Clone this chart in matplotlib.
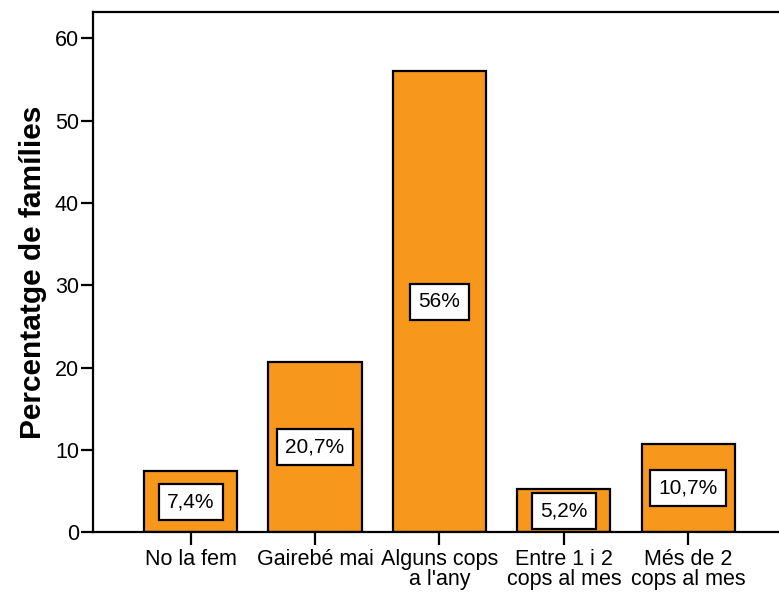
import matplotlib
matplotlib.use("Agg")
import matplotlib.pyplot as plt

categories = ["No la fem", "Gairebé mai", "Alguns cops\na l'any",
              "Entre 1 i 2\ncops al mes", "Més de 2\ncops al mes"]
values = [7.4, 20.7, 56.0, 5.2, 10.7]
value_labels = ["7,4%", "20,7%", "56%", "5,2%", "10,7%"]
yticks = [0, 10, 20, 30, 40, 50, 60]

plt.rcParams["font.family"] = ["Liberation Sans", "DejaVu Sans"]

fig = plt.figure(figsize=(7.79, 5.94), dpi=100)
ax = fig.add_axes([0.1194, 0.1039, 0.8806, 0.8759])

x = list(range(len(categories)))
ax.bar(x, values, width=0.75, color="#F7981D", edgecolor="black", linewidth=1.6, zorder=2)

for xi, v, lab in zip(x, values, value_labels):
    ax.text(xi, v / 2, lab, ha="center", va="center", fontsize=15, zorder=3,
            bbox=dict(boxstyle="square,pad=0.4", facecolor="white",
                      edgecolor="black", linewidth=1.6))

ax.set_xlim(-0.785, 4.73)
ax.set_ylim(0, 63.2)
ax.set_yticks(yticks)
ax.set_xticks(x)
ax.set_xticklabels(categories, fontsize=15.5, linespacing=0.95)
ax.tick_params(axis="y", labelsize=15.5, length=9, width=1.6, pad=1)
ax.tick_params(axis="x", length=9, width=1.6, pad=3)
ax.set_ylabel("Percentatge de famílies", fontsize=21.5, fontweight="bold", labelpad=6)

for side in ["left", "top", "bottom"]:
    ax.spines[side].set_linewidth(1.6)
ax.spines["right"].set_visible(False)

fig.savefig("out.png", dpi=100)
